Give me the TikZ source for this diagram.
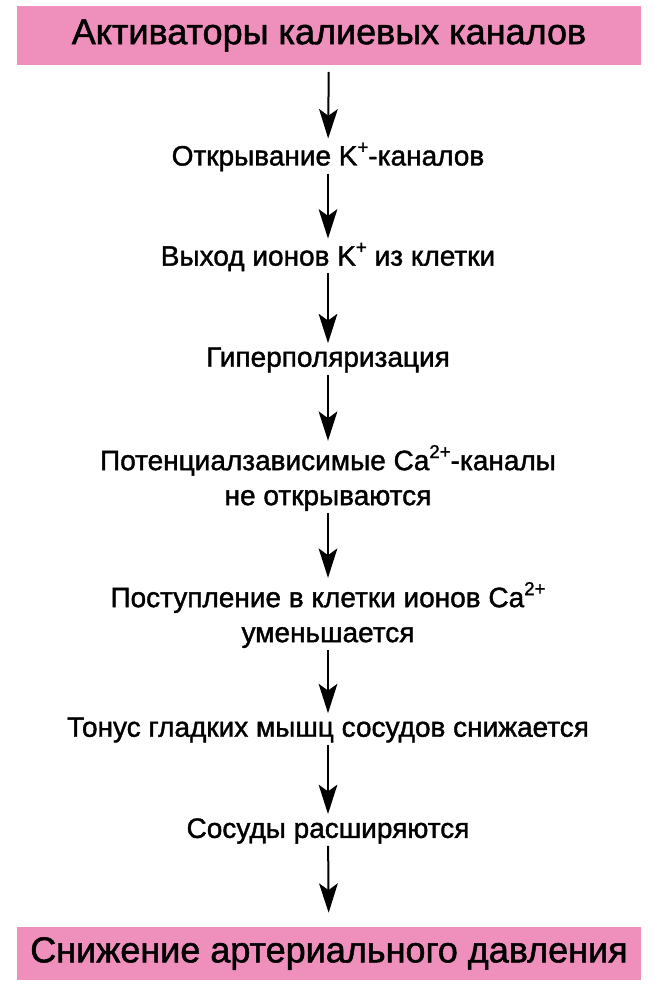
\documentclass[tikz,border=0pt]{standalone}
\usepackage{fontspec}
\setmainfont{Liberation Sans}[FakeBold=1.4]
\usetikzlibrary{arrows.meta}
\definecolor{pinkfill}{RGB}{238,144,187}
\newcommand\upidx[1]{\raisebox{9pt}{\fontsize{14}{14}\selectfont #1}}
\begin{document}
\begin{tikzpicture}
        [
            x=0.75pt, y=-0.75pt,
            banner/.style={rectangle, fill=pinkfill, minimum width=468pt, inner sep=0pt, font=\fontsize{27}{32}\selectfont},
            stage/.style={align=center, inner sep=0pt, font=\fontsize{21}{26.25}\selectfont},
            flow/.style={-{Stealth[length=22pt, width=14pt, inset=5pt]}, line width=1.5pt, shorten <=1.5pt, shorten >=3pt}
        ]
        \useasboundingbox (0,0) rectangle (654,999);
        % top box
        \node[banner, minimum height=44.25pt] (act) at (329,35.5) {Активаторы калиевых каналов};
        % chain of stages
        \node[stage] (open) at (328,157) {Открывание K\upidx{+}-каналов};
        \node[stage] (efflux) at (328,257) {Выход ионов K\upidx{+} из клетки};
        \node[stage] (hyper) at (328,360) {Гиперполяризация};
        \node[stage] (cachan) at (328,478) {Потенциалзависимые Ca\upidx{2+}-каналы\\не открываются};
        \node[stage] (cain) at (328,615) {Поступление в клетки ионов Ca\upidx{2+}\\уменьшается};
        \node[stage] (tone) at (328,730) {Тонус гладких мышц сосудов снижается};
        \node[stage] (dil) at (328,831) {Сосуды расширяются};
        % bottom box
        \node[banner, minimum height=39.75pt] (bp) at (329,953.5) {Снижение артериального давления};
        % arrows
        \draw[flow, shorten <=5pt] (act) -- (open);
        \draw[flow] (open) -- (efflux);
        \draw[flow] (efflux) -- (hyper);
        \draw[flow] (hyper) -- (cachan);
        \draw[flow] (cachan) -- (cain);
        \draw[flow] (cain) -- (tone);
        \draw[flow] (tone) -- (dil);
        \draw[flow, shorten >=10.5pt] (dil) -- (bp);
    \end{tikzpicture}
\end{document}
